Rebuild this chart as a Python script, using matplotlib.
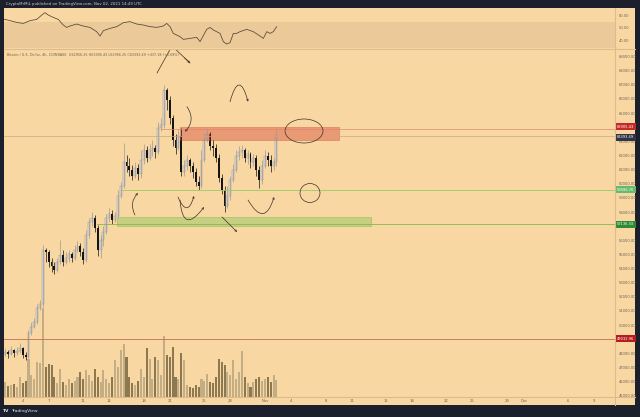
import numpy as np
import matplotlib.pyplot as plt
import matplotlib.transforms as mtransforms
from matplotlib.lines import Line2D
from matplotlib.patches import Rectangle, Ellipse

W, H = 640, 417

# BTC/USD candles (8h steps), day numbers counted from Oct 1 2021
first_open = 47950
closes = [48090, 47950, 48230, 48020, 48160, 48380, 47880, 47740, 49440, 49860,
          50220, 51210, 51490, 55310, 55170, 54460, 54180, 53900, 54460, 54960,
          54460, 54750, 55030, 54750, 55310, 55590, 55170, 54600, 56370, 57290,
          57580, 56870, 55310, 56020, 56590, 57580, 57860, 57430, 57720, 59130,
          59840, 61540, 61260, 60970, 60550, 61110, 60690, 61680, 62390, 61820,
          62390, 62530, 62250, 63950, 64160, 66630, 65930, 64650, 63100, 62530,
          63380, 60830, 61260, 61680, 61260, 60830, 60120, 59840, 61680, 63100,
          63520, 62670, 62530, 61820, 60410, 59560, 58430, 59130, 60270, 60970,
          61960, 62250, 62390, 61820, 62110, 61540, 61820, 60970, 60270, 61260,
          61960, 61680, 61260, 61540, 63393.49]
highs = [48380, 48230, 48520, 48300, 48450, 48730, 48450, 48090, 49650, 50220,
         50500, 51490, 51770, 55670, 55450, 55310, 54750, 54460, 54750, 56020,
         55310, 55170, 55310, 55170, 55670, 55950, 55810, 55450, 56730, 57580,
         58000, 57790, 57080, 56370, 57010, 57860, 58280, 58140, 58000, 59560,
         60120, 62880, 62030, 61820, 61330, 61540, 61400, 62390, 62810, 62670,
         62810, 63100, 62740, 64370, 64650, 66990, 66780, 66210, 64870, 63520,
         63800, 63950, 61680, 62030, 61820, 61540, 61110, 60550, 62390, 63520,
         63950, 63660, 63100, 62810, 62110, 60690, 59840, 59840, 60550, 61400,
         62390, 62670, 62740, 62530, 62390, 62250, 62110, 62030, 61260, 61680,
         62390, 62250, 62030, 61820, 63905.43]
lows = [47810, 47670, 47880, 47740, 47880, 48020, 47670, 47530, 47670, 49300,
        49790, 50070, 51060, 51280, 54460, 54110, 53750, 53610, 53750, 54320,
        54180, 54320, 54460, 54460, 54600, 55170, 54890, 54320, 54460, 56160,
        57010, 56590, 54890, 54750, 55590, 56440, 57290, 57150, 57290, 57580,
        58990, 59700, 60830, 60550, 60270, 60410, 60270, 60410, 61400, 61540,
        61680, 61960, 61820, 62110, 63730, 63950, 65220, 64230, 62670, 62110,
        62390, 60550, 60550, 60970, 60830, 60410, 59840, 59560, 59700, 61540,
        62950, 62390, 61960, 61540, 60120, 59270, 58000, 58280, 58850, 60120,
        60830, 61680, 61820, 61540, 61400, 61110, 61260, 60550, 59700, 59980,
        61110, 61260, 60830, 60970, 61260]
volumes = [1500, 1100, 1200, 1300, 1000, 2000, 1400, 1600, 3800, 2200,
           1800, 3500, 3400, 8900, 3000, 3300, 3200, 2000, 1400, 2800,
           1500, 1200, 1800, 1400, 1600, 2000, 2500, 1800, 2700, 2200,
           1600, 2800, 2000, 1500, 2700, 1800, 1400, 2000, 3700, 3000,
           4700, 5300, 4000, 2000, 1400, 1200, 1600, 2800, 2000, 4900,
           3800, 1800, 4000, 3700, 2200, 6100, 4200, 4000, 5000, 2000,
           1800, 4400, 3700, 1200, 1000, 900, 1200, 1000, 1800, 1600,
           2300, 1500, 1400, 2000, 3800, 3500, 3200, 2500, 2200, 3700,
           1800, 2500, 4600, 2000, 1400, 1000, 1500, 1800, 2000, 1600,
           1800, 2000, 1500, 2200, 1700]

# oscillator pane
osc_days = [1.76, 2.53, 3.31, 4.07, 4.84, 5.62, 6.2, 6.58, 6.96, 7.54, 8.12, 8.69,
            9.08, 9.47, 10.24, 11.01, 11.78, 12.55, 12.94, 13.32, 14.09, 14.87,
            15.63, 16.4, 17.18, 17.94, 18.72, 19.49, 20.25, 20.65, 21.03, 21.41,
            22.18, 22.57, 23.34, 24.12, 24.5, 25.27, 25.66, 26.04, 26.81, 27.19,
            27.58, 27.97, 28.35, 28.73, 29.12, 29.9, 30.66, 31.43, 31.82, 32.21,
            32.59, 32.97, 33.36]
osc_vals = [56.8, 55.5, 54.1, 53.3, 55.5, 56.5, 60.0, 61.9, 60.0, 58.1, 56.5, 52.0,
            50.1, 51.2, 52.8, 51.2, 50.1, 46.7, 43.2, 47.5, 49.3, 50.7,
            53.9, 54.7, 52.8, 52.0, 50.7, 50.1, 51.2, 53.3, 50.7, 45.3,
            42.7, 40.5, 41.3, 42.1, 38.7, 48.5, 50.1, 48.0, 45.3, 38.7,
            36.8, 37.9, 45.3, 45.3, 46.7, 48.5, 46.7, 43.2, 41.3, 46.7,
            45.3, 46.7, 50.7]

tick_days = [4, 7, 11, 14, 18, 21, 25, 28, 32, 35, 39, 42, 46, 49, 53, 56, 60, 62, 67, 70]
tick_labels = ['4', '7', '11', '14', '18', '21', '25', '28', 'Nov', '4', '8', '11',
               '15', '18', '22', '25', '29', 'Dec', '6', '9']

# price scale labels that the coloured tags cover are left out
price_ticks = [45000, 46000, 47000, 48000, 50000, 51000, 52000, 53000, 54000, 55000,
               56000, 58000, 59000, 60000, 61000, 62000, 63000, 65000, 66000, 67000,
               68000, 69000]

price_tags = [(63905.43, '#c62828', 1.4), (63393.49, '#2f3344', -1.0),
              (59586.76, '#66bb6a', 0), (57136.33, '#2e8b35', 0), (49032.96, '#b71c1c', 0)]

bg = '#f8d7a3'
frame = '#dcbc8c'
ink = '#3b3128'
dark = '#1c202d'


def px_box(x0, y0, x1, y1):
    return [x0 / W, 1 - y1 / H, (x1 - x0) / W, (y1 - y0) / H]


fig = plt.figure(figsize=(W / 100, H / 100), dpi=100, facecolor=dark)

panel = fig.add_axes(px_box(3.5, 8.3, 635, 405))
panel.set_facecolor(bg)
panel.set_xticks([])
panel.set_yticks([])
for s in panel.spines.values():
    s.set_visible(False)

xlim = (1.78, 72.47)
ylim = (44908, 69536)

# volume sits under the candles
vol_ax = fig.add_axes(px_box(3.5, 49, 615, 397))
vol_ax.set_axis_off()
ax = fig.add_axes(px_box(3.5, 49, 615, 397))
ax.patch.set_alpha(0)
osc = fig.add_axes(px_box(3.5, 8.3, 615, 48.5))
osc.patch.set_alpha(0)

days = 2 + np.arange(len(closes)) / 3
c = np.array(closes)
o = np.array([first_open] + closes[:-1])
hi = np.array(highs)
lo = np.array(lows)
up = c >= o

vol_ax.bar(days, volumes, width=0.24,
           color=np.where(up, '#c2ad84', '#8c7851'), lw=0)
vol_ax.set_xlim(xlim)
vol_ax.set_ylim(0, 34800)

ax.vlines(days[up], lo[up], hi[up], color='#9b9b9b', lw=0.5)
ax.vlines(days[~up], lo[~up], hi[~up], color='#151515', lw=0.5)
ax.bar(days[up], (c - o)[up], bottom=o[up], width=0.22,
       color='#dcdcdc', edgecolor='#8c8c8c', lw=0.3)
ax.bar(days[~up], (o - c)[~up], bottom=c[~up], width=0.22, color='#151515', lw=0)

# levels and zones
ax.axhline(63393.49, color='#cfa77a', lw=0.5)
ax.plot([20.0, xlim[1]], [63905.43] * 2, color='#d9896c', lw=0.5)
ax.plot([15.48, xlim[1]], [59586.76] * 2, color='#9bcc62', lw=0.6)
ax.plot([12.59, xlim[1]], [57136.33] * 2, color='#86b84c', lw=0.6)
ax.axhline(49032.96, color='#c46f52', lw=0.6)
ax.add_patch(Rectangle((22.24, 63096), 40.57 - 22.24, 63994 - 63096,
                       fc='#e0664f', ec='#d0543f', lw=0.5, alpha=0.55, zorder=1))
ax.add_patch(Rectangle((14.9, 57010), 44.23 - 14.9, 57625 - 57010,
                       fc='#9ccc65', ec='#7cb342', lw=0.5, alpha=0.55, zorder=1))

# hand drawn marks
ax.plot([19.53, 21.26, 23.34], [67840, 69750, 68545], color=ink, lw=0.5)


def arrow(p0, p1, rad=0.0):
    ax.annotate('', xy=p1, xytext=p0,
                arrowprops=dict(arrowstyle='->', color=ink, lw=0.5, mutation_scale=3,
                                shrinkA=0, shrinkB=0,
                                connectionstyle=f'arc3,rad={rad}'))


arrow((22.72, 68906), (23.34, 68545))
arrow((27.97, 65806), (30.05, 65806), -1.85)
arrow((22.99, 65452), (22.76, 63683), -0.4)
arrow((16.98, 57788), (17.33, 59345), -0.36)
arrow((21.95, 59062), (23.80, 59133), 1.4)
arrow((22.18, 58849), (24.96, 58354), 1.33)
arrow((27.04, 57646), (28.78, 56585))
arrow((30.05, 58849), (33.06, 59062), 1.15)
ax.add_patch(Ellipse((36.52, 63733), 4.39, 1698, fill=False, ec=ink, lw=0.5, zorder=4))
ax.add_patch(Ellipse((37.21, 59345), 2.31, 1345, fill=False, ec=ink, lw=0.5, zorder=4))

ax.set_xlim(xlim)
ax.set_ylim(ylim)
for s in ax.spines.values():
    s.set_visible(False)
ax.set_xticks(tick_days, tick_labels)
ax.yaxis.tick_right()
ax.set_yticks(price_ticks, [f'{v}.00' for v in price_ticks])
ax.tick_params(axis='x', length=0, pad=1.2, labelsize=2.7, labelcolor='#6e6456')
ax.tick_params(axis='y', length=0, pad=2.5, labelsize=2.6, labelcolor='#6e6456')

tr = mtransforms.blended_transform_factory(ax.transAxes, ax.transData)
for price, col, dy in price_tags:
    ax.annotate(f'{price:.2f}', xy=(1, price), xycoords=tr, xytext=(1.6, dy),
                textcoords='offset points', fontsize=2.6, color='white',
                ha='left', va='center', annotation_clip=False, zorder=6,
                bbox=dict(boxstyle='square,pad=0.45', fc=col, ec='none'))

ax.text(0.006, 0.982, 'Bitcoin / U.S. Dollar, 4h, COINBASE  O62956.25 H63905.43 '
        'L62956.25 C63393.49 +437.18 (+0.69%)', transform=ax.transAxes,
        fontsize=2.4, color='#6e6252', va='center')

# oscillator pane
osc.axhspan(33.8, 54.6, color='#ecc998', lw=0)
osc.plot(osc_days, osc_vals, color='#51463a', lw=0.55)
osc.set_xlim(xlim)
osc.set_ylim(33.2, 65.4)
for s in osc.spines.values():
    s.set_visible(False)
osc.set_xticks([])
osc.yaxis.tick_right()
osc.set_yticks([60, 50, 40], ['60.00', '50.00', '40.00'])
osc.tick_params(axis='y', length=0, pad=2.5, labelsize=2.6, labelcolor='#6e6456')

# pane separators
for xs, ys in [([615, 615], [8.3, 405]), ([3.5, 635], [48.8, 48.8]), ([3.5, 635], [397.2, 397.2])]:
    fig.add_artist(Line2D([x / W for x in xs], [1 - y / H for y in ys],
                          transform=fig.transFigure, color=frame, lw=0.8))

fig.text(6 / W, 1 - 4.3 / H, 'CryptoMrMiL published on TradingView.com, Nov 02, 2021 14:49 UTC',
         fontsize=2.8, color='#c9ccd6', va='center')
fig.text(3 / W, 1 - 411 / H, 'TV', fontsize=3.2, color='#e6e8ee', va='center', weight='bold')
fig.text(11 / W, 1 - 411 / H, 'TradingView', fontsize=3.2, color='#e6e8ee', va='center')

fig.savefig('out.png', dpi=100, facecolor=dark)
